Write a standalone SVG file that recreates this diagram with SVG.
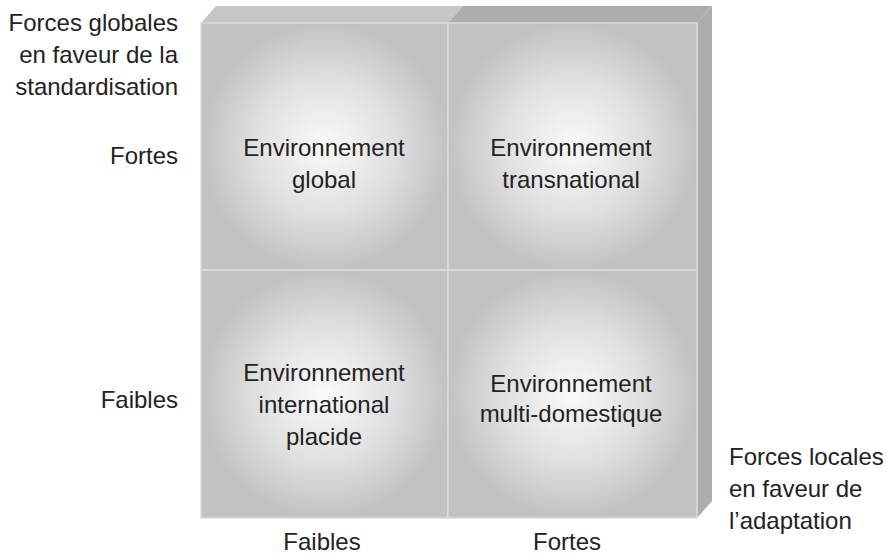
<svg xmlns="http://www.w3.org/2000/svg" width="886" height="556" viewBox="0 0 886 556">
<style>
text{font-family:"Liberation Sans",Arial,sans-serif;font-size:24px;fill:#222}
.c{text-anchor:middle}
.r{text-anchor:end}
.cell{fill:url(#rg);stroke:#dcdcdc;stroke-width:1.5}
</style>
<defs>
<radialGradient id="rg" cx="50%" cy="50%" r="50%">
<stop offset="0" stop-color="#fafafa"/>
<stop offset="0.55" stop-color="#e0e0e0"/>
<stop offset="1" stop-color="#c2c2c2"/>
</radialGradient>
</defs>
<rect width="886" height="556" fill="#fff"/>
<g id="box3d">
<polygon points="201,23 216,6 463,6 448,23" fill="#c6c6c6"/>
<polygon points="448,23 463,6 712,6 697,23" fill="#adadad"/>
<polygon points="697,23 712,6 712,501 697,518" fill="#adadad"/>
</g>
<g id="cell-global">
<rect class="cell" x="201" y="23" width="247" height="247"/>
<text class="c" x="324" y="156">Environnement</text>
<text class="c" x="324" y="188">global</text>
</g>
<g id="cell-transnational">
<rect class="cell" x="448" y="23" width="249" height="247"/>
<text class="c" x="571" y="156">Environnement</text>
<text class="c" x="571" y="188">transnational</text>
</g>
<g id="cell-international">
<rect class="cell" x="201" y="270" width="247" height="248"/>
<text class="c" x="324" y="381">Environnement</text>
<text class="c" x="324" y="413">international</text>
<text class="c" x="324" y="445">placide</text>
</g>
<g id="cell-multidomestique">
<rect class="cell" x="448" y="270" width="249" height="248"/>
<text class="c" x="571" y="392">Environnement</text>
<text class="c" x="571" y="422">multi-domestique</text>
</g>
<g id="labels">
<text class="r" x="178" y="31">Forces globales</text>
<text class="r" x="178" y="63">en faveur de la</text>
<text class="r" x="178" y="95">standardisation</text>
<text class="r" x="178" y="164">Fortes</text>
<text class="r" x="178" y="408">Faibles</text>
<text x="729" y="465">Forces locales</text>
<text x="729" y="497">en faveur de</text>
<text x="729" y="529">l’adaptation</text>
<text class="c" x="322" y="550">Faibles</text>
<text class="c" x="567" y="550">Fortes</text>
</g>
</svg>
